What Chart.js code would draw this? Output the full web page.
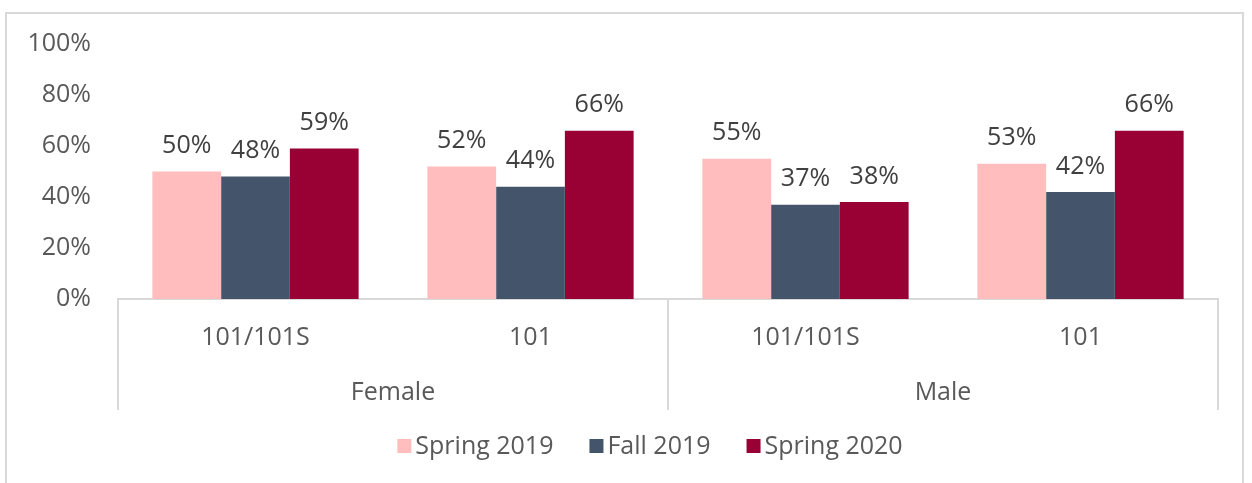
<!DOCTYPE html>
<html>
<head>
<meta charset="utf-8">
<script src="https://cdn.jsdelivr.net/npm/chart.js@4.4.0/dist/chart.umd.min.js"></script>
<style>
  html, body { margin: 0; padding: 0; background: #fff; }
  #wrap { position: relative; width: 1252px; height: 483px; overflow: hidden; }
  #frame { position: absolute; left: 5px; top: 12px; width: 1239px; height: 500px; border: 2px solid #d9d9d9; box-sizing: border-box; }
  canvas { position: absolute; left: 0; top: 0; }
</style>
</head>
<body>
<div id="wrap">
  <div id="frame"></div>
  <canvas id="chart" width="1252" height="483"></canvas>
</div>
<script>
document.addEventListener('DOMContentLoaded', function () {
    // --- Data ---
    const courseLabels = ['101/101S', '101', '101/101S', '101'];
    const groupLabels = ['Female', 'Male'];
    const groupSizes = [2, 2];
    const seriesNames = ['Spring 2019', 'Fall 2019', 'Spring 2020'];
    const spring2019 = [50, 52, 55, 53];
    const fall2019 = [48, 44, 37, 42];
    const spring2020 = [59, 66, 38, 66];
    const yTicks = [0, 20, 40, 60, 80, 100];

    const colors = ['#FFBDBD', '#44546A', '#990033'];
    const FONT = "'Open Sans', sans-serif";

    // separators, group names, value labels, legend
    const extras = {
        id: 'extras',
        afterDatasetsDraw(chart) {
            const ctx = chart.ctx;
            ctx.save();
            ctx.font = '25px ' + FONT;
            ctx.fillStyle = '#404040';
            ctx.textAlign = 'center';
            ctx.textBaseline = 'bottom';
            chart.data.datasets.forEach((ds, i) => {
                chart.getDatasetMeta(i).data.forEach((bar, j) => {
                    ctx.fillText(ds.data[j] + '%', bar.x, bar.y - 13);
                });
            });
            ctx.restore();
        },
        afterDraw(chart) {
            const ctx = chart.ctx;
            const x = chart.scales.x;
            const area = chart.chartArea;
            const half = (x.getPixelForValue(1) - x.getPixelForValue(0)) / 2;
            ctx.save();
            ctx.strokeStyle = '#d9d9d9';
            ctx.lineWidth = 2;
            let start = 0;
            const bounds = [area.left];
            groupSizes.forEach(n => {
                start += n;
                bounds.push(x.getPixelForValue(start - 1) + half);
            });
            bounds.forEach(bx => {
                ctx.beginPath();
                ctx.moveTo(Math.round(bx), area.bottom);
                ctx.lineTo(Math.round(bx), 410);
                ctx.stroke();
            });
            ctx.font = '25px ' + FONT;
            ctx.fillStyle = '#595959';
            ctx.textAlign = 'center';
            ctx.textBaseline = 'middle';
            groupLabels.forEach((g, i) => {
                ctx.fillText(g, (bounds[i] + bounds[i + 1]) / 2, 393);
            });

            // legend
            const box = 14, gapText = 4, gapItem = 36;
            const widths = seriesNames.map(n => box + gapText + ctx.measureText(n).width);
            const total = widths.reduce((a, b) => a + b, 0) + gapItem * (widths.length - 1);
            let lx = 650 - total / 2;
            const ly = 446;
            ctx.textAlign = 'left';
            seriesNames.forEach((n, i) => {
                ctx.fillStyle = colors[i];
                ctx.fillRect(lx, ly - box / 2, box, box);
                ctx.fillStyle = '#595959';
                ctx.fillText(n, lx + box + gapText, ly + 1);
                lx += widths[i] + gapItem;
            });
            ctx.restore();
        }
    };

    new Chart(document.getElementById('chart').getContext('2d'), {
        type: 'bar',
        data: {
            labels: courseLabels,
            datasets: [spring2019, fall2019, spring2020].map((d, i) => ({
                label: seriesNames[i],
                data: d,
                backgroundColor: colors[i],
                borderWidth: 0,
                categoryPercentage: 0.75,
                barPercentage: 1.0
            }))
        },
        options: {
            responsive: false,
            animation: false,
            layout: { padding: { left: 0, right: 34, top: 44, bottom: 64 } },
            plugins: {
                legend: { display: false },
                tooltip: { enabled: false }
            },
            scales: {
                y: {
                    min: 0,
                    max: 100,
                    afterFit: s => { s.width = 118; },
                    afterBuildTicks: s => { s.ticks = yTicks.map(v => ({ value: v })); },
                    grid: { display: false, drawTicks: false },
                    border: { display: false },
                    ticks: {
                        padding: 27,
                        color: '#595959',
                        font: { family: FONT, size: 25 },
                        callback: v => v + '%'
                    }
                },
                x: {
                    afterFit: s => { s.height = 120; },
                    grid: { display: false, drawTicks: false },
                    border: { display: true, color: '#d9d9d9', width: 2 },
                    ticks: {
                        padding: 24,
                        maxRotation: 0,
                        color: '#595959',
                        font: { family: FONT, size: 25 }
                    }
                }
            }
        },
        plugins: [extras]
    });
});
</script>
</body>
</html>
